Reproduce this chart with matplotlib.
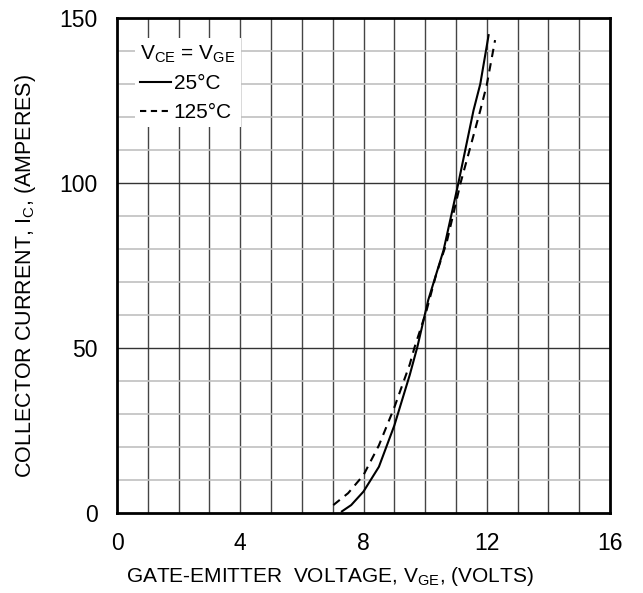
import numpy as np
import matplotlib
matplotlib.use('Agg')
import matplotlib.pyplot as plt
from matplotlib.lines import Line2D

# 25°C curve (solid)
vge_25 = [7.3, 7.6, 8.0, 8.5, 9.0, 9.5, 9.75, 10.1, 10.6, 11.08, 11.57, 11.79, 12.06]
ic_25 = [0.5, 2.4, 6.5, 14.0, 26.5, 41.8, 50.4, 64.5, 79.7, 100.0, 122.0, 130.0, 144.8]

# 125°C curve (dashed)
vge_125 = [7.02, 7.5, 8.0, 8.5, 9.0, 9.5, 9.65, 10.05, 10.35, 10.7, 11.15, 11.5, 11.79, 12.0, 12.27]
ic_125 = [2.4, 6.0, 11.5, 20.5, 32.0, 45.0, 50.0, 61.5, 72.0, 82.0, 100.0, 112.0, 122.0, 129.7, 143.3]

x_ticks = [0, 4, 8, 12, 16]
y_ticks = [0, 50, 100, 150]

plt.rcParams['font.family'] = ['Liberation Sans', 'DejaVu Sans']

fig = plt.figure(figsize=(6.43, 5.93), dpi=100)
ax = fig.add_axes([117 / 643, 80 / 593, 493 / 643, 495 / 593])

# 网格
for v in range(1, 16):
    ax.axvline(v, color='#444444', lw=1.0, zorder=1)
for h in range(10, 150, 10):
    if h % 50 == 0:
        ax.axhline(h, color='#333333', lw=1.0, zorder=1)
    else:
        ax.axhline(h, color='#c0c0c0', lw=1.2, zorder=1)

ax.plot(vge_25, ic_25, color='black', lw=1.5, zorder=3)
ax.plot(vge_125, ic_125, color='black', lw=1.5, ls=(0, (4, 3)), zorder=3)

ax.set_xlim(0, 16)
ax.set_ylim(0, 150)
ax.set_xticks(x_ticks)
ax.set_yticks(y_ticks)
ax.tick_params(length=0, labelsize=16.5, pad=14)
for s in ax.spines.values():
    s.set_linewidth(2)

ax.set_xlabel('GATE-EMITTER  VOLTAGE, V$_{\\mathregular{GE}}$, (VOLTS)', fontsize=15)
ax.set_ylabel('COLLECTOR CURRENT, I$_{\\mathregular{C}}$, (AMPERES)', fontsize=15.5)
ax.xaxis.set_label_coords(0.431, -0.106)
ax.yaxis.set_label_coords(-0.160, 0.478)

handles = [Line2D([], [], color='black', lw=1.5),
           Line2D([], [], color='black', lw=1.5, ls=(0, (3, 2.2)))]
leg = ax.legend(handles, ['25°C', '125°C'],
                title='V$_{\\mathregular{CE}}$ = V$_{\\mathregular{GE}}$',
                loc='upper left', bbox_to_anchor=(0.037, 0.959),
                fontsize=15, title_fontsize=15, frameon=True,
                handlelength=1.45, handletextpad=0.15, labelspacing=0.45,
                borderpad=0.25, borderaxespad=0, fancybox=False)
leg.get_frame().set_edgecolor('none')
leg.get_frame().set_facecolor('white')
leg.get_frame().set_alpha(1)
leg._legend_box.align = 'left'
leg.set_zorder(5)

fig.savefig('out.png', dpi=100)
